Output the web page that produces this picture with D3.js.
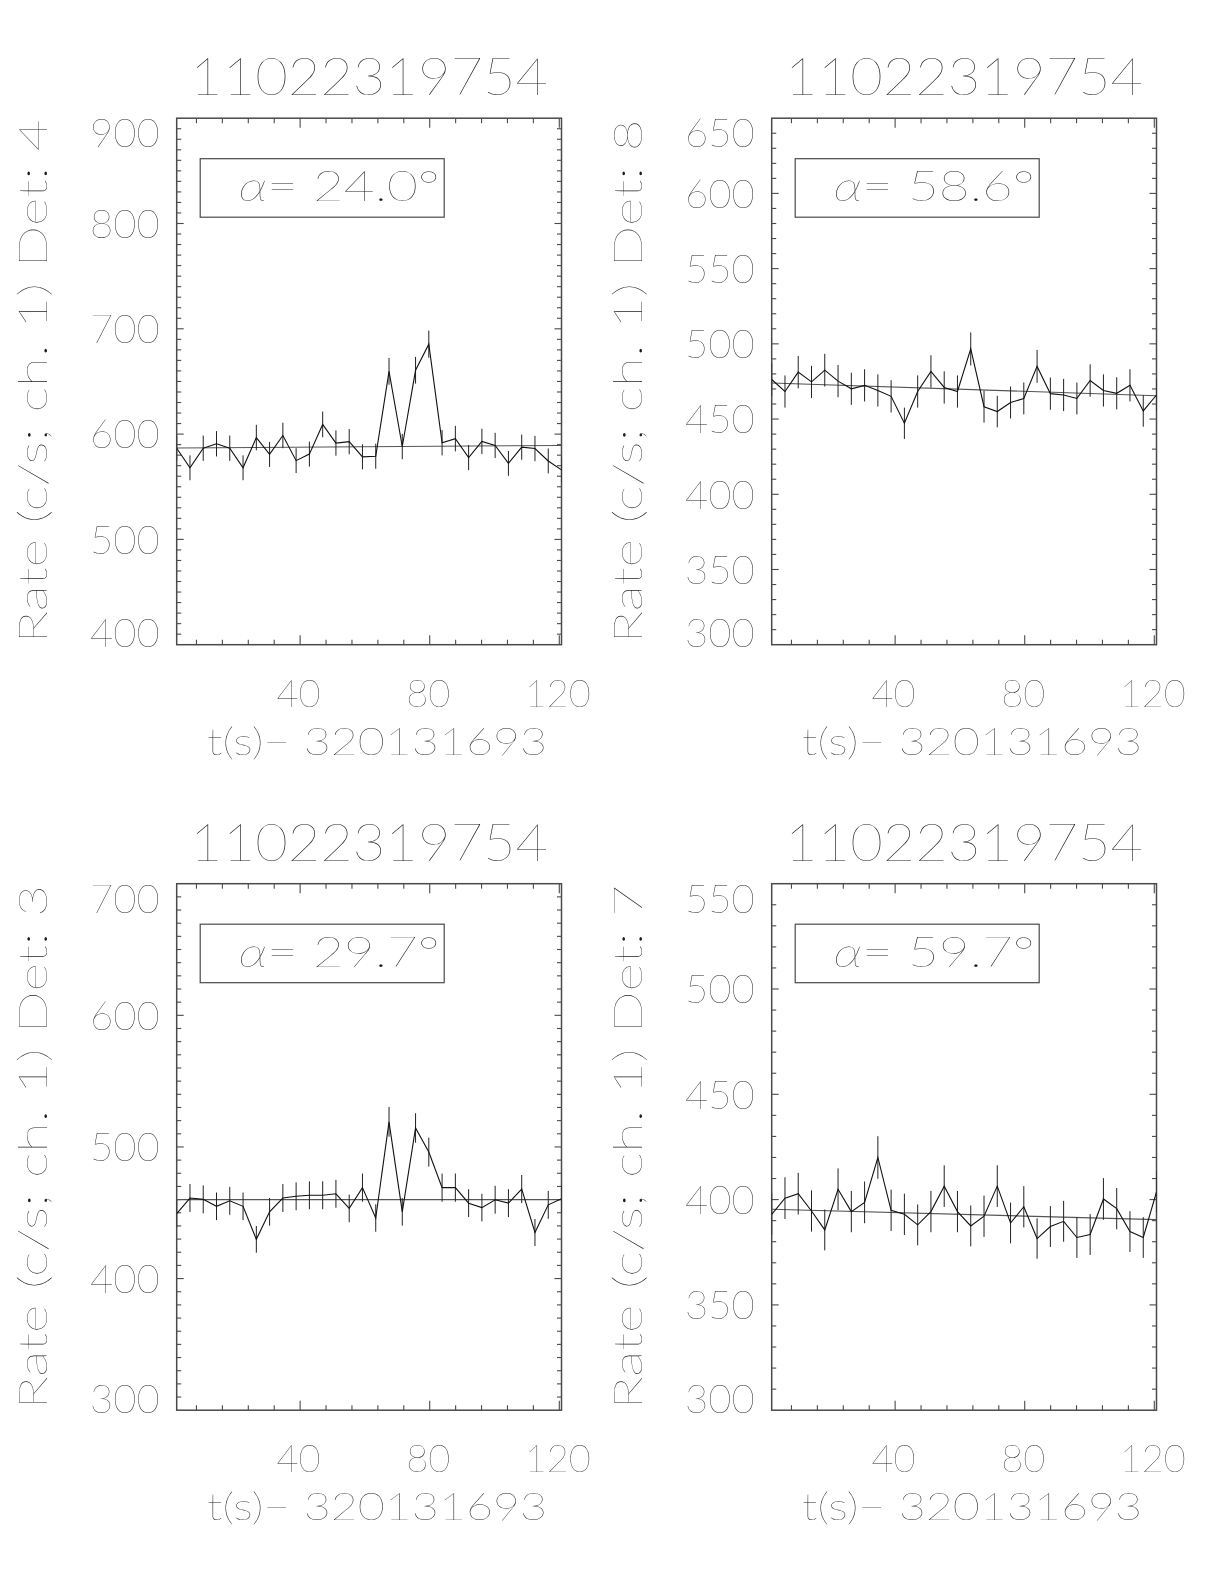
<!DOCTYPE html>
<html><head><meta charset="utf-8">
<script src="https://cdn.jsdelivr.net/npm/d3@7"></script>
<style>
body{margin:0;background:#fff}
svg{will-change:transform}
text{font-family:Lato,'DejaVu Sans',sans-serif;font-weight:200;fill:#1a1a1a}
</style>
</head><body>
<svg id="c" width="1224" height="1584"></svg>
<script>
// ---------------- data ----------------
const times = [1.90, 6.00, 10.09, 14.19, 18.28, 22.38, 26.48, 30.57, 34.67, 38.76,
  42.86, 46.96, 51.05, 55.15, 59.24, 63.34, 67.44, 71.53, 75.63, 79.72,
  83.82, 87.92, 92.01, 96.11, 100.20, 104.30, 108.40, 112.49, 116.59, 120.68];

const det4Rate = [586.6, 568, 586.6, 590.8, 586.6, 568, 596.7, 580.7, 598.7, 574.8,
  581, 609.2, 591.5, 592.8, 578.4, 579, 659.6, 588.2, 660.6, 685.4,
  591.8, 595.7, 577.7, 593.1, 589.2, 572.2, 587.6, 586.3, 574.5, 566];
const det4Err = [12.0, 11.8, 12.0, 12.0, 12.0, 11.8, 12.1, 11.9, 12.1, 11.8,
  11.9, 12.2, 12.0, 12.0, 11.9, 11.9, 12.7, 12.0, 12.7, 12.9,
  12.0, 12.1, 11.9, 12.0, 12.0, 11.8, 12.0, 12.0, 11.8, 11.8];
const det4Fit = [586.8, 589.2];

const det8Rate = [476.3, 468.3, 481.2, 474.7, 482.5, 475.2, 470.1, 472.4, 469, 465.1,
  447.2, 468.3, 481.6, 471, 468.3, 496.6, 458.2, 455, 461, 463.7,
  485, 466.9, 466, 463.7, 475.6, 469, 467.1, 472.4, 455.4, 466];
const det8Err = [10.8, 10.7, 10.8, 10.7, 10.9, 10.7, 10.7, 10.7, 10.7, 10.7,
  10.4, 10.7, 10.8, 10.7, 10.7, 11.0, 10.6, 10.5, 10.6, 10.6,
  10.9, 10.7, 10.7, 10.6, 10.8, 10.7, 10.7, 10.7, 10.5, 10.7];
const det8Fit = [474.0, 465.5];

const det3Rate = [449.4, 461.2, 460.2, 454.9, 459.1, 454.9, 429.8, 450.7, 461.2, 462.5,
  463.3, 463.3, 464.4, 453.3, 469.1, 446, 519.1, 450.7, 514.4, 496.1,
  469.1, 469.1, 457.3, 453.9, 459.9, 457.3, 468, 435, 456, 460.7];
const det3Err = [10.5, 10.6, 10.6, 10.5, 10.6, 10.5, 10.2, 10.5, 10.6, 10.6,
  10.6, 10.6, 10.6, 10.5, 10.7, 10.4, 11.3, 10.5, 11.2, 11.0,
  10.7, 10.7, 10.6, 10.5, 10.6, 10.6, 10.7, 10.3, 10.6, 10.6];
const det3Fit = [460.0, 460.0];

const det7Rate = [393, 400.7, 402.8, 394.6, 385.6, 404.9, 394.3, 398.7, 420, 394.9,
  393, 388, 394.3, 406.4, 394.3, 387.5, 392.1, 406.4, 388.9, 396.6,
  381.5, 387.2, 389.7, 382, 383.4, 400.3, 395.7, 384.8, 382, 403.6];
const det7Err = [9.8, 9.9, 9.9, 9.8, 9.7, 9.9, 9.8, 9.9, 10.1, 9.8,
  9.8, 9.7, 9.8, 9.9, 9.8, 9.7, 9.8, 9.9, 9.7, 9.8,
  9.6, 9.7, 9.7, 9.7, 9.7, 9.9, 9.8, 9.7, 9.7, 9.9];
const det7Fit = [395.4, 390.5];

const titleText = "11022319754";
const xTitle = "t(s)\u2212 320131693";
const xTickLabels = [40, 80, 120];
const detectors = [4, 8, 3, 7];
const alphas = ["24.0", "58.6", "29.7", "59.7"];
const yDomains = [[400, 900], [300, 650], [300, 700], [300, 550]];
const yMajorSteps = [100, 50, 100, 50];

// ---------------- layout ----------------
const svg = d3.select("#c");
const W = 384.8, H = 526.5;
const origins = [[176.7, 118.2], [771.7, 118.2], [176.7, 883.7], [771.7, 883.7]];
const rates = [det4Rate, det8Rate, det3Rate, det7Rate];
const errs = [det4Err, det8Err, det3Err, det7Err];
const fits = [det4Fit, det8Fit, det3Fit, det7Fit];

const AX = "#4a4a4a";

origins.forEach(([L, T], p) => {
  const g = svg.append("g").attr("transform", `translate(${L},${T})`);
  const x = d3.scaleLinear().domain([times[0], times[times.length - 1]]).range([0, W]);
  const y = d3.scaleLinear().domain(yDomains[p]).range([H, 0]);

  // frame
  g.append("rect").attr("width", W).attr("height", H)
    .attr("fill", "none").attr("stroke", AX).attr("stroke-width", 1.5);

  // x ticks (bottom & top, inward)
  const xMinor = d3.range(8, 121, 8);
  xMinor.forEach(v => {
    const major = v % 40 === 0;
    const len = major ? 9.5 : 5;
    const xp = x(v);
    g.append("line").attr("x1", xp).attr("x2", xp).attr("y1", H).attr("y2", H - len)
      .attr("stroke", AX).attr("stroke-width", 1.1);
    g.append("line").attr("x1", xp).attr("x2", xp).attr("y1", 0).attr("y2", len)
      .attr("stroke", AX).attr("stroke-width", 1.1);
  });
  const [y0, y1] = yDomains[p];
  const yTicks = d3.range(y0 + 10, y1, 10);
  yTicks.forEach(v => {
    const major = Math.abs(v % yMajorSteps[p]) < 1e-6;
    const len = major ? 7 : 4.5;
    const yp = y(v);
    g.append("line").attr("x1", 0).attr("x2", len).attr("y1", yp).attr("y2", yp)
      .attr("stroke", AX).attr("stroke-width", 1.1);
    g.append("line").attr("x1", W).attr("x2", W - len).attr("y1", yp).attr("y2", yp)
      .attr("stroke", AX).attr("stroke-width", 1.1);
  });

  // y tick labels
  const yLab = d3.range(y0, y1 + 1e-6, yMajorSteps[p]);
  yLab.forEach((v, i) => {
    let cy = y(v);
    if (i === 0) cy -= 11.7;
    if (i === yLab.length - 1) cy += 14.8;
    g.append("text").attr("x", -17).attr("y", cy).attr("dy", "0.36em")
      .attr("text-anchor", "end").attr("font-size", 40).text(v);
  });
  // x tick labels
  xTickLabels.forEach(v => {
    g.append("text").attr("x", x(v) - 1.5).attr("y", H + 62)
      .attr("text-anchor", "middle").attr("font-size", 38).text(v);
  });
  // x title
  g.append("text").attr("x", W / 2 + 8).attr("y", H + 110)
    .attr("text-anchor", "middle").attr("font-size", 38)
    .attr("textLength", 340).attr("lengthAdjust", "spacingAndGlyphs").text(xTitle);
  // y title
  g.append("text").attr("transform", `translate(-130,${H / 2}) rotate(-90)`)
    .attr("text-anchor", "middle").attr("font-size", 40)
    .attr("textLength", 524).attr("lengthAdjust", "spacingAndGlyphs")
    .text(`Rate (c/s; ch. 1) Det: ${detectors[p]}`);
  // plot title
  g.append("text").attr("x", W / 2).attr("y", -23)
    .attr("text-anchor", "middle").attr("font-size", 52)
    .attr("textLength", 358).attr("lengthAdjust", "spacingAndGlyphs").text(titleText);

  // clip
  const cid = "clip" + p;
  g.append("clipPath").attr("id", cid).append("rect").attr("width", W).attr("height", H);
  const data = times.map((t, i) => ({t, r: rates[p][i], e: errs[p][i]}));
  const pg = g.append("g").attr("clip-path", `url(#${cid})`);

  // fit line
  pg.append("line")
    .attr("x1", x(times[0])).attr("y1", y(fits[p][0]))
    .attr("x2", x(times[times.length - 1])).attr("y2", y(fits[p][1]))
    .attr("stroke", "#555").attr("stroke-width", 1.1);
  // error bars
  pg.selectAll(".eb").data(data).join("line")
    .attr("x1", d => x(d.t)).attr("x2", d => x(d.t))
    .attr("y1", d => y(d.r - d.e)).attr("y2", d => y(d.r + d.e))
    .attr("stroke", "#222").attr("stroke-width", 1);
  // data line
  pg.append("path").datum(data)
    .attr("d", d3.line().x(d => x(d.t)).y(d => y(d.r)))
    .attr("fill", "none").attr("stroke", "#111").attr("stroke-width", 1.1);

  // alpha box
  g.append("rect").attr("x", 23.5).attr("y", 40.5).attr("width", 244).attr("height", 58.5)
    .attr("fill", "none").attr("stroke", AX).attr("stroke-width", 1.2);
  const at = g.append("text").attr("x", 62).attr("y", 83).attr("font-size", 41)
    .attr("textLength", 201).attr("lengthAdjust", "spacingAndGlyphs");
  at.append("tspan").attr("font-style", "italic").text("\u03b1");
  at.append("tspan").text(`= ${alphas[p]}\u00b0`);
});
</script>
</body></html>
